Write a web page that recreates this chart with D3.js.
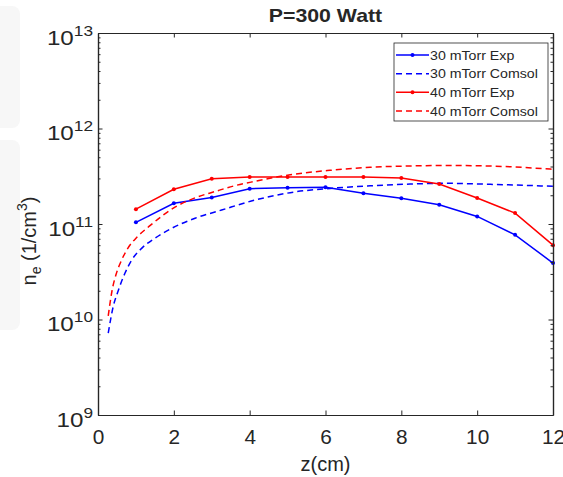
<!DOCTYPE html>
<html>
<head>
<meta charset="utf-8">
<script src="https://cdn.jsdelivr.net/npm/d3@7"></script>
<style>
  body { margin: 0; background: #fff; }
  text { font-family: "Liberation Sans", Arial, sans-serif; fill: #262626; }
</style>
</head>
<body>
<div id="chart"></div>
<script>
// experimental points, z in cm
const zExp = [1, 2, 3, 4, 5, 6, 7, 8, 9, 10, 11, 12]
const exp30 = [1.04e11, 1.65e11, 1.89e11, 2.34e11, 2.40e11, 2.42e11, 2.10e11, 1.86e11, 1.59e11, 1.20e11, 7.7e10, 3.9e10]
const exp40 = [1.43e11, 2.31e11, 2.98e11, 3.10e11, 3.10e11, 3.10e11, 3.10e11, 3.04e11, 2.62e11, 1.87e11, 1.30e11, 6.0e10]

// comsol curves
const zCom30 = [0.27, 0.4, 0.54, 0.71, 0.89, 1.15, 1.5, 1.94, 2.56, 3.26, 4.14, 5.07, 6.12, 7.18, 8.23, 9.2, 10.08, 11, 12]
const com30 = [7.2e9, 1.36e10, 2.04e10, 3.05e10, 4.2e10, 5.56e10, 7.1e10, 9.0e10, 1.15e11, 1.4e11, 1.78e11, 2.13e11, 2.36e11, 2.51e11, 2.62e11, 2.67e11, 2.62e11, 2.56e11, 2.48e11]
const zCom40 = [0.27, 0.37, 0.48, 0.6, 0.79, 1.03, 1.37, 1.72, 2.03, 2.56, 3.09, 3.61, 4.14, 5.07, 6.12, 7.18, 8.23, 9.2, 10.08, 11, 12]
const com40 = [1.09e10, 2.0e10, 3.0e10, 4.0e10, 5.6e10, 7.3e10, 9.6e10, 1.24e11, 1.5e11, 1.88e11, 2.19e11, 2.52e11, 2.8e11, 3.28e11, 3.65e11, 3.93e11, 4.05e11, 4.1e11, 4.07e11, 3.95e11, 3.74e11]

const xTicks = [0, 2, 4, 6, 8, 10, 12]
const yTicks = [1e9, 1e10, 1e11, 1e12, 1e13]

const seriesNames = ['30 mTorr Exp', '30 mTorr Comsol', '40 mTorr Exp', '40 mTorr Comsol']

const width = 563
const height = 477
const plotLeft = 98, plotRight = 553, plotTop = 33, plotBottom = 415
const axisColor = '#262626'

const xScale = d3.scaleLinear().domain([0, 12]).range([plotLeft, plotRight])
const yScale = d3.scaleLog().domain([1e9, 1e13]).range([plotBottom, plotTop])

const svg = d3.select('#chart').append('svg')
  .attr('width', width)
  .attr('height', height)

// stretch a text sideways, the reference font runs a bit wider
function widen(sel, f) {
  sel.each(function () {
    const w = this.getComputedTextLength()
    d3.select(this).attr('textLength', w * f).attr('lengthAdjust', 'spacingAndGlyphs')
  })
}

// faint grey shapes at the left edge of the picture
svg.append('rect').attr('x', -10).attr('y', 6).attr('width', 30).attr('height', 122).attr('rx', 8).attr('fill', '#f7f7f7')
svg.append('rect').attr('x', -10).attr('y', 140).attr('width', 30).attr('height', 190).attr('rx', 8).attr('fill', '#f7f7f7')

const plot = svg.append('g')

const line = d3.line()
  .x(d => xScale(d[0]))
  .y(d => yScale(d[1]))

const dashLine = d3.line()
  .x(d => xScale(d[0]))
  .y(d => yScale(d[1]))
  .curve(d3.curveMonotoneX)

const series = [
  { z: zExp, v: exp30, color: '#0000ff', dashed: false },
  { z: zCom30, v: com30, color: '#0000ff', dashed: true },
  { z: zExp, v: exp40, color: '#ff0000', dashed: false },
  { z: zCom40, v: com40, color: '#ff0000', dashed: true }
]

series.forEach(s => {
  const pts = s.z.map((z, i) => [z, s.v[i]])
  plot.append('path')
    .attr('d', s.dashed ? dashLine(pts) : line(pts))
    .attr('fill', 'none')
    .attr('stroke', s.color)
    .attr('stroke-width', 1.5)
    .attr('stroke-dasharray', s.dashed ? '6,4' : null)
  if (!s.dashed) {
    plot.selectAll(null)
      .data(pts).enter()
      .append('circle')
        .attr('cx', d => xScale(d[0]))
        .attr('cy', d => yScale(d[1]))
        .attr('r', 2)
        .attr('fill', s.color)
  }
})

// axes: ticks pointing inward, box all round
const minor = yScale.ticks().filter(d => yTicks.indexOf(d) < 0)

const xAxis = d3.axisBottom(xScale).tickValues(xTicks).tickSizeInner(-4.5).tickSizeOuter(0).tickPadding(15)
svg.append('g')
    .attr('transform', `translate(0, ${plotBottom})`)
    .call(xAxis)
    .call(g => g.selectAll('text').attr('font-size', 20).attr('fill', axisColor).style('font-family', 'Liberation Sans, Arial, sans-serif'))
    .call(g => widen(g.selectAll('text'), 1.04))

svg.append('g')
    .attr('transform', `translate(0, ${plotTop})`)
    .call(d3.axisTop(xScale).tickValues(xTicks).tickSizeInner(-4.5).tickSizeOuter(0).tickFormat(''))

svg.append('g')
    .attr('transform', `translate(${plotLeft}, 0)`)
    .call(d3.axisLeft(yScale).tickValues(yTicks).tickSizeInner(-4.5).tickSizeOuter(0).tickFormat(''))
svg.append('g')
    .attr('transform', `translate(${plotLeft}, 0)`)
    .call(d3.axisLeft(yScale).tickValues(minor).tickSizeInner(-2.5).tickSizeOuter(0).tickFormat(''))
svg.append('g')
    .attr('transform', `translate(${plotRight}, 0)`)
    .call(d3.axisRight(yScale).tickValues(yTicks).tickSizeInner(-4.5).tickSizeOuter(0).tickFormat(''))
svg.append('g')
    .attr('transform', `translate(${plotRight}, 0)`)
    .call(d3.axisRight(yScale).tickValues(minor).tickSizeInner(-2.5).tickSizeOuter(0).tickFormat(''))

svg.selectAll('.domain').attr('stroke', axisColor).attr('stroke-width', 1.2)
svg.selectAll('.tick line').attr('stroke', axisColor)

// y tick labels 10^n
const yLab = svg.append('g')
yTicks.forEach(t => {
  const ty = yScale(t)
  const lbl = yLab.append('text')
    .attr('x', plotLeft - 5)
    .attr('y', ty + 11.5)
    .attr('text-anchor', 'end')
  lbl.append('tspan').attr('font-size', 21).text('10')
  lbl.append('tspan').attr('font-size', 15).attr('dy', -9).text(Math.round(Math.log10(t)))
})
widen(yLab.selectAll('text'), 1.15)

// title and axis labels
svg.append('text')
    .text('P=300 Watt')
    .attr('x', (plotLeft + plotRight) / 2)
    .attr('y', 22)
    .attr('text-anchor', 'middle')
    .attr('font-size', 19)
    .attr('font-weight', 'bold')
    .attr('fill', '#000')
    .call(t => widen(t, 1.12))

svg.append('text')
    .text('z(cm)')
    .attr('x', (plotLeft + plotRight) / 2)
    .attr('y', 471)
    .attr('text-anchor', 'middle')
    .attr('font-size', 20)

const yTitle = svg.append('text')
    .attr('text-anchor', 'middle')
    .attr('transform', `translate(36, 241) rotate(-90)`)
    .attr('font-size', 20)
yTitle.append('tspan').text('n')
yTitle.append('tspan').attr('font-size', 14).attr('dy', 5).text('e')
yTitle.append('tspan').attr('dy', -5).text(' (1/cm')
yTitle.append('tspan').attr('font-size', 14).attr('dy', -9).text('3')
yTitle.append('tspan').attr('dy', 9).text(')')

// legend
const legend = svg.append('g').attr('id', 'legend')
legend.append('rect')
    .attr('x', 394).attr('y', 43)
    .attr('width', 154).attr('height', 78)
    .attr('fill', '#fff')
    .attr('stroke', axisColor)
    .attr('stroke-width', 0.8)

const rowY = d3.scalePoint().domain(seriesNames).range([55, 111])
seriesNames.forEach((name, i) => {
  const s = series[i]
  const yy = rowY(name)
  legend.append('line')
      .attr('x1', 396).attr('x2', 429)
      .attr('y1', yy).attr('y2', yy)
      .attr('stroke', s.color)
      .attr('stroke-width', 1.5)
      .attr('stroke-dasharray', s.dashed ? '6,4' : null)
  if (!s.dashed) {
    legend.append('circle').attr('cx', 412.5).attr('cy', yy).attr('r', 2).attr('fill', s.color)
  }
  legend.append('text')
      .text(name)
      .attr('x', 430)
      .attr('y', yy + 4.5)
      .attr('font-size', 13)
      .attr('fill', '#000')
      .call(t => widen(t, 1.09))
})
</script>
</body>
</html>
